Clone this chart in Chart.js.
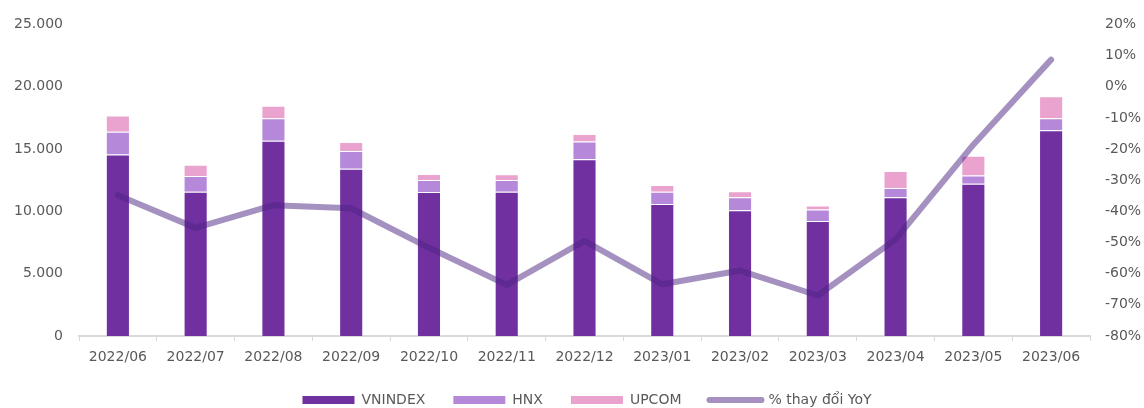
<!DOCTYPE html>
<html>
<head>
<meta charset="utf-8">
<script src="https://cdn.jsdelivr.net/npm/chart.js@4/dist/chart.umd.min.js"></script>
<style>
  html, body { margin: 0; padding: 0; background: #ffffff; }
  #wrap { width: 1144px; height: 408px; position: relative; }
</style>
</head>
<body>
<div id="wrap"><canvas id="c"></canvas></div>
<script>
const categories = ['2022/06','2022/07','2022/08','2022/09','2022/10','2022/11','2022/12','2023/01','2023/02','2023/03','2023/04','2023/05','2023/06'];
const vnindex = [14570, 11580, 15670, 13420, 11560, 11580, 14180, 10590, 10090, 9220, 11140, 12210, 16510];
const hnx     = [1810, 1260, 1810, 1415, 965, 945, 1415, 990, 1050, 920, 730, 660, 965];
const upcom   = [1310, 895, 1000, 730, 470, 450, 605, 525, 470, 340, 1360, 1595, 1760];
const yoy     = [-34.8, -45.3, -38.0, -39.0, -51.7, -63.6, -49.5, -63.4, -59.0, -67.0, -49.0, -18.6, 8.7];
const leftTicks = { min: 0, max: 25000, step: 5000 };
const rightTicks = { min: -80, max: 20, step: 10 };
const seriesNames = ['VNINDEX', 'HNX', 'UPCOM', '% thay đổi YoY'];

const textColor = '#595959';
const font = { family: 'DejaVu Sans', size: 14 };
const lineColor = 'rgba(75,35,129,0.5)';

function fmtThousands(v) {
  return String(v).replace(/\B(?=(\d{3})+(?!\d))/g, '.');
}

const legendShift = {
  id: 'legendShift',
  afterLayout(chart) {
    if (chart.legend) {
      chart.legend.left += 15;
      chart.legend.right += 15;
    }
  }
};

new Chart(document.getElementById('c'), {
  plugins: [legendShift],
  data: {
    labels: categories,
    datasets: [
      { type: 'line', label: seriesNames[3], data: yoy, yAxisID: 'y2', order: 0,
        borderColor: lineColor, backgroundColor: lineColor, borderWidth: 6,
        borderCapStyle: 'round', borderJoinStyle: 'round', pointRadius: 0, tension: 0 },
      { type: 'bar', label: seriesNames[0], data: vnindex, yAxisID: 'y', order: 1, stack: 's',
        backgroundColor: '#7030A0', borderColor: 'rgba(255,255,255,0.35)', borderWidth: 1 },
      { type: 'bar', label: seriesNames[1], data: hnx, yAxisID: 'y', order: 1, stack: 's',
        backgroundColor: '#B688DA', borderColor: 'rgba(255,255,255,0.35)', borderWidth: 1 },
      { type: 'bar', label: seriesNames[2], data: upcom, yAxisID: 'y', order: 1, stack: 's',
        backgroundColor: '#EAA3CE', borderColor: 'rgba(255,255,255,0.35)', borderWidth: 1 }
    ]
  },
  options: {
    responsive: true,
    maintainAspectRatio: false,
    animation: false,
    layout: { padding: { left: 0, right: 0, top: 2.6, bottom: 0 } },
    datasets: { bar: { barPercentage: 0.31, categoryPercentage: 1.0 } },
    plugins: {
      tooltip: { enabled: false },
      legend: {
        position: 'bottom',
        maxHeight: 43,
        labels: {
          color: textColor,
          font: font,
          usePointStyle: true,
          pointStyleWidth: 52,
          boxHeight: 8,
          padding: 28,
          sort: (a, b) => seriesNames.indexOf(a.text) - seriesNames.indexOf(b.text),
          generateLabels: (chart) => {
            const items = Chart.defaults.plugins.legend.labels.generateLabels(chart);
            items.forEach(it => {
              const ds = chart.data.datasets[it.datasetIndex];
              if (ds.type === 'line') {
                it.pointStyle = 'line';
                it.lineWidth = 6;
                it.strokeStyle = lineColor;
                it.lineCap = 'round';
                it.fillStyle = lineColor;
              } else {
                it.pointStyle = 'rect';
                it.lineWidth = 0;
                it.strokeStyle = 'rgba(0,0,0,0)';
              }
            });
            return items;
          }
        }
      }
    },
    scales: {
      x: {
        stacked: true,
        afterFit: (s) => { s.height = 29; },
        grid: { display: true, drawOnChartArea: false, drawTicks: true, tickLength: 5, color: '#d9d9d9', lineWidth: 1, offset: true },
        border: { display: true, color: '#d9d9d9', width: 2 },
        ticks: { color: textColor, font: font, padding: 8, maxRotation: 0, autoSkip: false }
      },
      y: {
        stacked: true,
        position: 'left',
        min: leftTicks.min, max: leftTicks.max,
        afterFit: (s) => { s.width = 79; },
        grid: { display: false, drawTicks: false },
        border: { display: false },
        ticks: { stepSize: leftTicks.step, color: textColor, font: font, padding: 16,
                 callback: v => fmtThousands(v) }
      },
      y2: {
        position: 'right',
        min: rightTicks.min, max: rightTicks.max,
        afterFit: (s) => { s.width = 54; },
        grid: { display: false, drawTicks: false },
        border: { display: false },
        ticks: { stepSize: rightTicks.step, color: textColor, font: font, padding: 15,
                 callback: v => v + '%' }
      }
    }
  }
});
</script>
</body>
</html>
